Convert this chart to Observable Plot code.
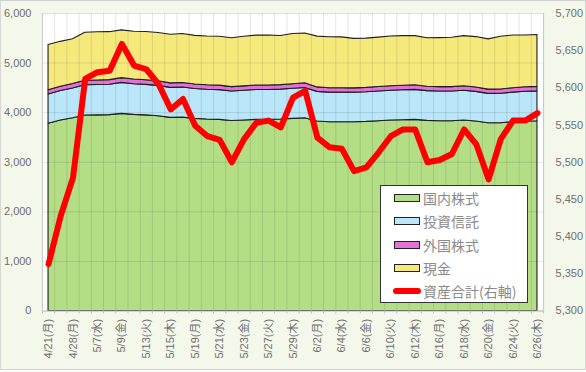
<!DOCTYPE html>
<html><head><meta charset="utf-8">
<script src="https://cdn.jsdelivr.net/npm/d3@7"></script>
<script src="https://cdn.jsdelivr.net/npm/@observablehq/plot@0.6"></script>
<style>
html,body{margin:0;padding:0;background:#fff;}
#wrap{position:relative;width:584px;height:368px;background:#F4F8EA;border:1px solid #D6D6D6;border-top-color:#CFCFCF;overflow:hidden;}
#chart{position:absolute;left:-1px;top:-1px;}
#legend{position:absolute;left:379px;top:184px;width:146px;height:116px;background:#fff;border:1px solid #333;font-family:"Noto Sans CJK JP",sans-serif;font-size:14px;color:#8a8a8a;}
.row{position:absolute;left:0;height:20px;line-height:20px;}
.sw{position:absolute;left:13px;top:6px;width:24px;height:6px;border:1px solid #222;}
.ln{position:absolute;left:12px;top:7px;width:28px;height:6px;border-radius:3px;background:#FF0000;}
.tx{position:absolute;left:42px;top:0;white-space:nowrap;}
</style></head>
<body>
<div id="wrap"><div id="chart"></div><div id="legend"></div></div>
<script>
const dates = ["4/21(月)","4/24(木)","4/28(月)","5/1(木)","5/7(水)","5/8(木)","5/9(金)","5/12(月)","5/13(火)","5/14(水)","5/15(木)","5/16(金)","5/19(月)","5/20(火)","5/21(水)","5/22(木)","5/23(金)","5/26(月)","5/27(火)","5/28(水)","5/29(木)","5/30(金)","6/2(月)","6/3(火)","6/4(水)","6/5(木)","6/6(金)","6/9(月)","6/10(火)","6/11(水)","6/12(木)","6/13(金)","6/16(月)","6/17(火)","6/18(水)","6/19(木)","6/20(金)","6/23(月)","6/24(火)","6/25(水)","6/26(木)"];
const domestic = [3775,3841,3888,3942,3945,3950,3976,3955,3945,3928,3895,3900,3875,3862,3855,3830,3841,3855,3855,3861,3875,3888,3821,3807,3807,3807,3814,3827,3841,3848,3855,3834,3827,3827,3841,3821,3787,3787,3807,3821,3827];
const trusts = [590,595,600,610,612,612,625,618,615,612,605,607,603,600,600,597,600,602,602,603,607,610,598,596,596,596,597,600,602,604,605,600,599,599,602,598,592,593,597,600,602];
const foreign = [85,86,88,92,92,93,95,94,93,92,90,91,90,89,89,88,89,90,90,90,92,94,90,88,88,87,88,89,90,91,91,89,89,89,90,89,86,87,89,90,91];
const cash = [913,906,903,968,972,968,963,963,972,973,981,987,981,984,986,985,1001,1006,1009,993,1013,1004,1024,1029,1027,998,994,997,1002,1001,993,977,988,996,1011,1016,1012,1064,1063,1045,1046];
const total = [5363,5428,5479,5612,5621,5623,5659,5630,5625,5605,5571,5585,5549,5535,5530,5500,5531,5553,5556,5547,5587,5596,5533,5520,5518,5488,5493,5513,5535,5544,5544,5500,5503,5511,5544,5524,5477,5531,5556,5556,5566];
const seriesNames = ["国内株式","投資信託","外国株式","現金"];
const lineName = "資産合計(右軸)";
const leftTicks = [0,1000,2000,3000,4000,5000,6000];
const rightTicks = [5300,5350,5400,5450,5500,5550,5600,5650,5700];
const colors = ["#B4DE86","#B9E6F8","#E271D9","#F6E97C"];

const series = [domestic, trusts, foreign, cash];
const rows = [];
dates.forEach((d, i) => series.forEach((arr, k) => rows.push({i, name: seriesNames[k], value: arr[i]})));
const totalRows = total.map((v, i) => ({i, v}));
const idx = dates.map((d, i) => i);
const labelTicks = idx.filter(i => i % 2 === 0);
const bounds = idx.map(i => i - 0.5).concat([dates.length - 0.5]);
const R0 = rightTicks[0], R1 = rightTicks[rightTicks.length - 1];
const L1 = leftTicks[leftTicks.length - 1];
const toLeft = v => (v - R0) / (R1 - R0) * L1;
const fromLeft = y => y / L1 * (R1 - R0) + R0;
const fmt = d3.format(",");

const chart = Plot.plot({
  width: 586, height: 372,
  marginTop: 13, marginBottom: 61, marginLeft: 42, marginRight: 42,
  style: {fontFamily: "'Liberation Sans','Noto Sans CJK JP',sans-serif", fontSize: "11px", color: "#6e6e6e", background: "transparent"},
  x: {type: "linear", domain: [-0.5, dates.length - 0.5], label: null},
  y: {domain: [0, L1], label: null},
  color: {domain: seriesNames, range: colors},
  marks: [
    Plot.frame({fill: "#fff", stroke: null}),
    Plot.areaY(rows, {x: "i", y: "value", z: "name", fill: "name", stroke: "#1e1e1e", strokeWidth: 1.1, order: null}),
    Plot.ruleX(bounds, {stroke: "#000", strokeOpacity: 0.11}),
    Plot.ruleY(leftTicks, {stroke: "#000", strokeOpacity: 0.11}),
    Plot.ruleX([bounds[0], bounds[bounds.length - 1]], {stroke: "#C8C8C8"}),
    Plot.ruleY([0], {stroke: "#BDBDBD"}),
    Plot.line(totalRows, {x: "i", y: d => toLeft(d.v), stroke: "#FF0000", strokeWidth: 6, strokeLinejoin: "round", strokeLinecap: "round"}),
    Plot.axisY(leftTicks, {anchor: "left", label: null, tickSize: 0, tickPadding: 11, tickFormat: fmt}),
    Plot.axisY(rightTicks.map(toLeft), {anchor: "right", label: null, tickSize: 0, tickPadding: 12, tickFormat: d => fmt(Math.round(fromLeft(d)))}),
    Plot.axisX(bounds, {label: null, tickSize: 3, stroke: "#BDBDBD", tickFormat: () => ""}),
    Plot.axisX(labelTicks, {label: null, tickSize: 0, tickPadding: 8, tickRotate: -90, tickFormat: i => dates[i]})
  ]
});
document.getElementById("chart").appendChild(chart);

const legend = document.getElementById("legend");
const rowsTop = [2, 25, 49, 72, 95];
seriesNames.forEach((n, k) => {
  const r = document.createElement("div");
  r.className = "row"; r.style.top = rowsTop[k] + "px";
  r.innerHTML = `<span class="sw" style="background:${colors[k]}"></span><span class="tx">${n}</span>`;
  legend.appendChild(r);
});
const lr = document.createElement("div");
lr.className = "row"; lr.style.top = rowsTop[4] + "px";
lr.innerHTML = `<span class="ln"></span><span class="tx">${lineName}</span>`;
legend.appendChild(lr);
</script>
</body></html>
